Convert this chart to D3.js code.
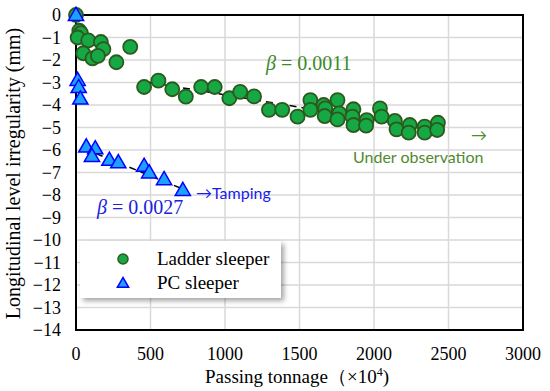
<!DOCTYPE html>
<html>
<head>
<meta charset="utf-8">
<script src="https://cdn.jsdelivr.net/npm/d3@7"></script>
<style>
  body { margin: 0; background: #fff; }
</style>
</head>
<body>
<svg id="chart" width="550" height="391" style="font-family: 'Liberation Serif', 'DejaVu Serif', serif;"></svg>
<script>
// ladder sleeper: passing tonnage (x10^4) and irregularity (mm)
const ladderX = [0, 22, 33, 11, 82, 167, 184, 49, 111, 147, 271, 364, 457, 553, 646, 737, 840, 931,
  1029, 1102, 1195, 1295, 1384, 1487, 1573, 1573, 1662, 1673, 1669, 1755, 1767, 1755, 1862, 1855,
  1862, 1951, 1947, 2040, 2051, 2140, 2151, 2240, 2233, 2340, 2340, 2429, 2424];
const ladderY = [0, -0.7, -0.81, -1.0, -1.13, -1.2, -1.52, -1.7, -1.93, -1.82, -2.1, -1.42, -3.2, -2.92,
  -3.3, -3.63, -3.2, -3.2, -3.7, -3.42, -3.62, -4.22, -4.22, -4.52, -3.78, -4.22, -4.0, -4.15, -4.49,
  -3.78, -4.37, -4.64, -4.19, -4.52, -4.89, -4.67, -4.92, -4.15, -4.52, -4.71, -5.08, -4.89, -5.23,
  -4.96, -5.23, -4.79, -5.11];

// PC sleeper
const pcX = [0, 11, 18, 29, 69, 129, 107, 224, 284, 457, 491, 591, 717];
const pcY = [0, -2.89, -3.21, -3.72, -5.85, -5.93, -6.27, -6.44, -6.55, -6.71, -7.0, -7.3, -7.78];

// fitted trend lines (start/end tonnage, intercept, slope)
const ladderFit = { from: 480, to: 2440, a: -2.45, b: -0.0011 };
const pcFit = { from: 60, to: 720, a: -5.8, b: -0.0027 };

const xTicks = [0, 500, 1000, 1500, 2000, 2500, 3000];
const yTicks = d3.range(0, -15, -1);

const serif = "'Liberation Serif', 'DejaVu Serif', serif";
const sans = "Lato, 'Open Sans', sans-serif";

const svg = d3.select('#chart');
const pLeft = 76, pRight = 523, pTop = 15, pBottom = 330;

const x = d3.scaleLinear().domain([0, 3000]).range([pLeft, pRight]);
const y = d3.scaleLinear().domain([0, -14]).range([pTop, pBottom]);

// grid
svg.append('g')
  .selectAll('line')
  .data(xTicks.slice(1, -1))
  .join('line')
  .attr('x1', d => x(d)).attr('x2', d => x(d))
  .attr('y1', pTop).attr('y2', pBottom)
  .style('stroke', '#d9d9d9').style('stroke-width', 1.5);

svg.append('g')
  .selectAll('line')
  .data(yTicks.slice(1, -1))
  .join('line')
  .attr('x1', pLeft).attr('x2', pRight)
  .attr('y1', d => y(d)).attr('y2', d => y(d))
  .style('stroke', '#d9d9d9').style('stroke-width', 1.5);

// frame
svg.append('rect')
  .attr('x', pLeft).attr('y', pTop)
  .attr('width', pRight - pLeft).attr('height', pBottom - pTop)
  .style('fill', 'none').style('stroke', '#000').style('stroke-width', 2);

// tick labels
svg.append('g')
  .selectAll('text')
  .data(yTicks)
  .join('text')
  .attr('x', 61)
  .attr('y', d => y(d) + 6)
  .attr('text-anchor', 'end')
  .style('font-family', serif)
  .style('font-size', '18px')
  .text(d => d < 0 ? '\u2212' + Math.abs(d) : d);

svg.append('g')
  .selectAll('text')
  .data(xTicks)
  .join('text')
  .attr('x', d => x(d))
  .attr('y', 360)
  .attr('text-anchor', 'middle')
  .style('font-family', serif)
  .style('font-size', '18px')
  .text(d => d);

// axis titles
svg.append('text')
  .attr('transform', 'translate(20,' + ((pTop + pBottom) / 2 + 1) + ') rotate(-90)')
  .attr('text-anchor', 'middle')
  .style('font-family', serif)
  .style('font-size', '20px')
  .text('Longitudinal level irregularity (mm)');

const xt = svg.append('text')
  .attr('x', 297).attr('y', 383)
  .attr('text-anchor', 'middle')
  .style('font-family', serif)
  .style('font-size', '19px');
xt.append('tspan').text('Passing tonnage\uff08\u00d710');
xt.append('tspan').attr('dy', -7).style('font-size', '12px').text('4');
xt.append('tspan').attr('dy', 7).text(')');

// trend lines
function trend(fit) {
  return [fit.from, fit.to].map(t => [x(t), y(fit.a + fit.b * t)]);
}
[ladderFit, pcFit].forEach(fit => {
  svg.append('path')
    .attr('d', d3.line()(trend(fit)))
    .style('stroke', '#000').style('stroke-width', 1.5)
    .style('stroke-dasharray', '7,5').style('fill', 'none');
});

// markers
const circleSym = d3.symbol().type(d3.symbolCircle).size(155);
const triSym = d3.symbol().type(d3.symbolTriangle).size(100);

svg.append('g')
  .selectAll('path')
  .data(ladderX)
  .join('path')
  .attr('transform', (d, i) => `translate(${x(d)},${y(ladderY[i])})`)
  .attr('d', circleSym)
  .style('fill', '#17a846').style('stroke', '#2b5a1c').style('stroke-width', 1.8);

svg.append('g')
  .selectAll('path')
  .data(pcX)
  .join('path')
  .attr('transform', (d, i) => `translate(${x(d)},${y(pcY[i]) + 1})`)
  .attr('d', triSym)
  .style('fill', '#1ea0ff').style('stroke', '#0000ff').style('stroke-width', 1.5);

// annotations
const b1 = svg.append('text').attr('x', 266).attr('y', 70)
  .style('font-family', serif)
  .style('font-size', '20px').style('fill', '#3a8a2a');
b1.append('tspan').style('font-style', 'italic').text('\u03b2');
b1.append('tspan').text(' = 0.0011');

const b2 = svg.append('text').attr('x', 97).attr('y', 214)
  .style('font-family', serif)
  .style('font-size', '20px').style('fill', '#2020e0');
b2.append('tspan').style('font-style', 'italic').text('\u03b2');
b2.append('tspan').text(' = 0.0027');

svg.append('text').attr('x', 471).attr('y', 141)
  .style('font-family', sans).style('font-size', '16px').style('fill', '#4e8a2e')
  .text('\u2192');
svg.append('text').attr('x', 353).attr('y', 163)
  .style('font-family', sans).style('font-size', '16px').style('fill', '#4e8a2e')
  .text('Under observation');
svg.append('text').attr('x', 196).attr('y', 199)
  .style('font-family', sans).style('font-size', '16px').style('fill', '#1a1aee')
  .text('\u2192Tamping');

// legend
const defs = svg.append('defs');
const f = defs.append('filter').attr('id', 'shadow').attr('x', '-10%').attr('y', '-10%')
  .attr('width', '130%').attr('height', '140%');
f.append('feDropShadow').attr('dx', 3).attr('dy', 3).attr('stdDeviation', 2.5)
  .attr('flood-color', '#000').attr('flood-opacity', 0.35);

const lg = svg.append('g');
lg.append('rect')
  .attr('x', 80).attr('y', 241).attr('width', 201).attr('height', 57)
  .style('fill', '#fff').attr('filter', 'url(#shadow)');

const legendItems = [
  { label: 'Ladder sleeper', sym: d3.symbol().type(d3.symbolCircle).size(80), fill: '#17a846', stroke: '#2b5a1c' },
  { label: 'PC sleeper', sym: d3.symbol().type(d3.symbolTriangle).size(55), fill: '#1ea0ff', stroke: '#0000ff' }
];
legendItems.forEach((d, i) => {
  lg.append('path')
    .attr('transform', `translate(123,${259 + i * 24 + (i ? 1 : 0)})`)
    .attr('d', d.sym)
    .style('fill', d.fill).style('stroke', d.stroke).style('stroke-width', 1.5);
  lg.append('text')
    .attr('x', 157).attr('y', 265 + i * 24)
    .style('font-family', serif)
    .style('font-size', '19px')
    .text(d.label);
});
</script>
</body>
</html>
